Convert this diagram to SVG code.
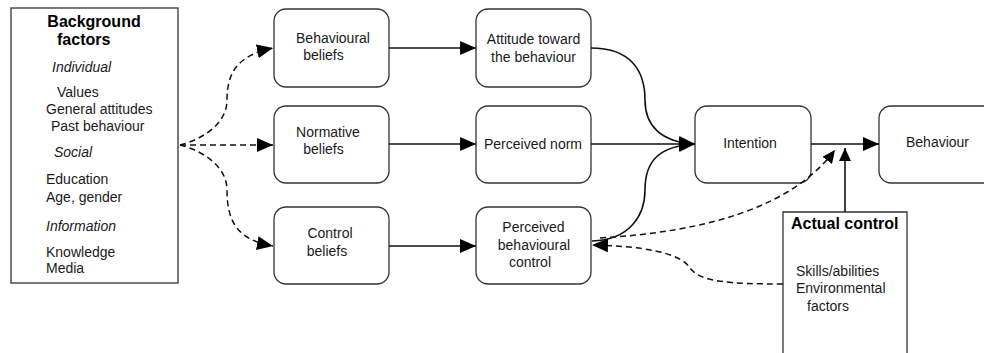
<svg xmlns="http://www.w3.org/2000/svg" width="984" height="353" viewBox="0 0 984 353">
<defs>
<marker id="ah" markerUnits="userSpaceOnUse" markerWidth="17" markerHeight="14" refX="16" refY="7" orient="auto">
<path d="M0,0 L16,7 L0,14 Z" fill="#000"/>
</marker>
<marker id="ahs" markerUnits="userSpaceOnUse" markerWidth="14" markerHeight="12" refX="13" refY="6" orient="auto">
<path d="M0,0 L13,6 L0,12 Z" fill="#000"/>
</marker>
<style>
text{font-family:"Liberation Sans",Arial,sans-serif;font-size:14px;fill:#1a1a1a}
.b{font-weight:bold;font-size:16px;fill:#000}
.i{font-style:italic}
.c{text-anchor:middle}
.node{fill:#fff;stroke:#333;stroke-width:1.3}
.sq{fill:#fff;stroke:#333;stroke-width:1.3}
.ln{fill:none;stroke:#111;stroke-width:1.6}
.dl{fill:none;stroke:#111;stroke-width:1.5;stroke-dasharray:6,4}
</style>
</defs>
<g id="background">
<rect class="sq" x="11" y="8" width="167" height="275"/>
<text class="b c" x="94" y="27">Background</text>
<text class="b" x="57" y="45">factors</text>
<text class="i" x="52" y="72">Individual</text>
<text x="57" y="97">Values</text>
<text x="46" y="114">General attitudes</text>
<text x="51" y="131">Past behaviour</text>
<text class="i" x="54" y="157">Social</text>
<text x="46" y="184">Education</text>
<text x="46" y="202">Age, gender</text>
<text class="i" x="46" y="231">Information</text>
<text x="46" y="257">Knowledge</text>
<text x="46" y="273">Media</text>
</g>
<g id="behavioural-beliefs">
<rect class="node" x="274" y="9" width="115" height="78" rx="12"/>
<text class="c" x="333" y="43">Behavioural</text>
<text class="c" x="323.5" y="60">beliefs</text>
</g>
<g id="normative-beliefs">
<rect class="node" x="274" y="106" width="115" height="77" rx="12"/>
<text class="c" x="328" y="137">Normative</text>
<text class="c" x="323.5" y="154">beliefs</text>
</g>
<g id="control-beliefs">
<rect class="node" x="274" y="207" width="115" height="77" rx="12"/>
<text class="c" x="330" y="238">Control</text>
<text class="c" x="327" y="256">beliefs</text>
</g>
<g id="attitude">
<rect class="node" x="476" y="9" width="115" height="78" rx="12"/>
<text class="c" x="533.5" y="44">Attitude toward</text>
<text class="c" x="533.5" y="62">the behaviour</text>
</g>
<g id="perceived-norm">
<rect class="node" x="476" y="106" width="115" height="77" rx="12"/>
<text class="c" x="533" y="149">Perceived norm</text>
</g>
<g id="pbc">
<rect class="node" x="476" y="207" width="115" height="77" rx="12"/>
<text class="c" x="533.5" y="232">Perceived</text>
<text class="c" x="534" y="250">behavioural</text>
<text class="c" x="530" y="267">control</text>
</g>
<g id="intention">
<rect class="node" x="695" y="106" width="116" height="77" rx="12"/>
<text class="c" x="750" y="148">Intention</text>
</g>
<g id="behaviour">
<rect class="node" x="879" y="106" width="118" height="77" rx="12"/>
<text class="c" x="937.5" y="147">Behaviour</text>
</g>
<g id="actual-control">
<path class="sq" d="M783,360 L783,212 L907,212 L907,360"/>
<text class="b" x="791" y="229">Actual control</text>
<text x="796" y="276">Skills/abilities</text>
<text x="796" y="293">Environmental</text>
<text x="807" y="311">factors</text>
</g>
<g id="connectors">
<path class="dl" d="M180,145 C200,140 227,125 227,100 C227,70 240,55 273,48" marker-end="url(#ah)"/>
<path class="dl" d="M180,145 L273,145" marker-end="url(#ah)"/>
<path class="dl" d="M180,145 C200,150 227,165 227,190 C227,225 240,240 273,246" marker-end="url(#ah)"/>
<path class="ln" d="M389,48 L476,48" marker-end="url(#ah)"/>
<path class="ln" d="M389,144 L476,144" marker-end="url(#ah)"/>
<path class="ln" d="M389,246 L476,246" marker-end="url(#ah)"/>
<path class="ln" d="M591,48 C630,48 645,70 645,100 C645,125 660,142 695,144" marker-end="url(#ah)"/>
<path class="ln" d="M591,144 L695,144" marker-end="url(#ah)"/>
<path class="ln" d="M592,241 C630,240 645,215 645,190 C645,160 660,146 695,144" marker-end="url(#ah)"/>
<path class="ln" d="M811,144 L879,144" marker-end="url(#ah)"/>
<path class="ln" d="M845,212 L845,148" marker-end="url(#ahs)"/>
<path class="dl" d="M600,238 C700,232 790,210 835,150" marker-end="url(#ahs)"/>
<path class="dl" d="M783,284 C730,284 700,282 690,268 C680,252 640,246 592,245" marker-end="url(#ah)"/>
</g>
</svg>
